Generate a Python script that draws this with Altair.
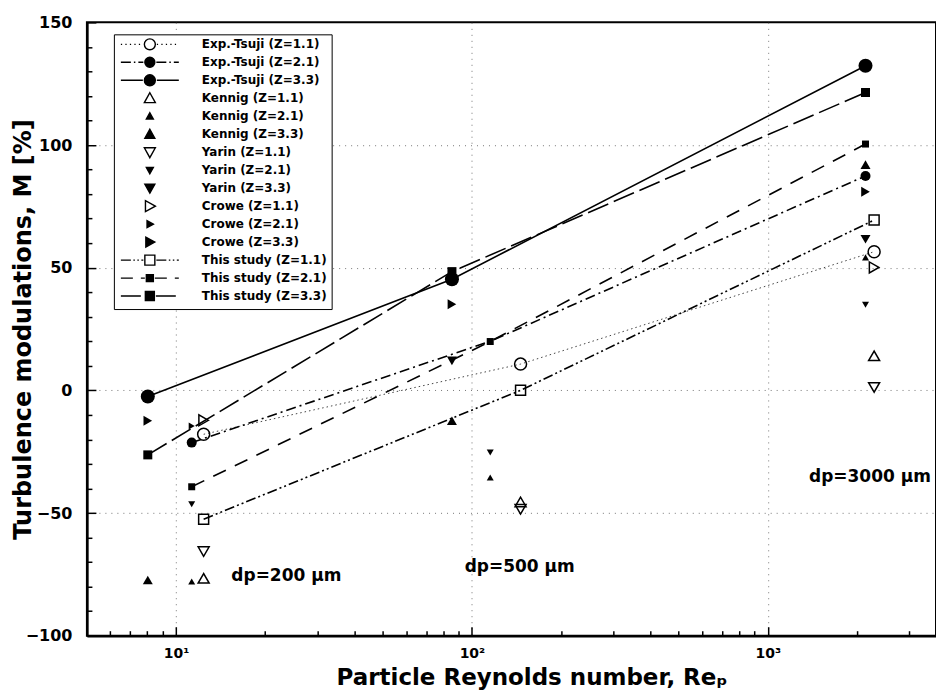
import altair as alt
import pandas as pd

# ---------------- data ----------------
SERIES = ["Exp.-Tsuji (Z=1.1)", "Exp.-Tsuji (Z=2.1)", "Exp.-Tsuji (Z=3.3)",
          "Kennig (Z=1.1)", "Kennig (Z=2.1)", "Kennig (Z=3.3)",
          "Yarin (Z=1.1)", "Yarin (Z=2.1)", "Yarin (Z=3.3)",
          "Crowe (Z=1.1)", "Crowe (Z=2.1)", "Crowe (Z=3.3)",
          "This study (Z=1.1)", "This study (Z=2.1)", "This study (Z=3.3)"]

tsuji11_x = [12.4, 146, 2286];   tsuji11_y = [-17.9, 10.7, 56.5]
tsuji21_x = [11.3, 115.3, 2138]; tsuji21_y = [-21.3, 20.0, 87.4]
tsuji33_x = [8.03, 85.6, 2138];  tsuji33_y = [-2.5, 45.3, 132.3]
kennig11_x = [12.4, 146, 2286];  kennig11_y = [-76.6, -45.5, 14.1]
kennig21_x = [11.3, 115.3, 2138]; kennig21_y = [-77.9, -35.5, 54.2]
kennig33_x = [8.03, 85.6, 2138]; kennig33_y = [-77.3, -12.4, 92.0]
yarin11_x = [12.4, 146, 2286];   yarin11_y = [-65.7, -48.5, 1.2]
yarin21_x = [11.3, 115.3, 2138]; yarin21_y = [-46.4, -25.3, 34.9]
yarin33_x = [85.6, 2138];        yarin33_y = [12.0, 61.6]
crowe11_x = [12.4, 2286];        crowe11_y = [-12.2, 50.1]
crowe21_x = [11.3];              crowe21_y = [-14.5]
crowe33_x = [8.03, 85.6, 2138];  crowe33_y = [-12.4, 35.1, 81.0]
study11_x = [12.4, 146, 2286];   study11_y = [-52.5, 0.0, 69.4]
study21_x = [11.3, 115.3, 2138]; study21_y = [-39.3, 19.9, 100.4]
study33_x = [8.03, 85.6, 2138];  study33_y = [-26.3, 48.4, 121.4]

SERIES_X = [tsuji11_x, tsuji21_x, tsuji33_x, kennig11_x, kennig21_x, kennig33_x,
            yarin11_x, yarin21_x, yarin33_x, crowe11_x, crowe21_x, crowe33_x,
            study11_x, study21_x, study33_x]
SERIES_Y = [tsuji11_y, tsuji21_y, tsuji33_y, kennig11_y, kennig21_y, kennig33_y,
            yarin11_y, yarin21_y, yarin33_y, crowe11_y, crowe21_y, crowe33_y,
            study11_y, study21_y, study33_y]
# which points carry a marker (the middle Tsuji Z=2.1 point is hidden in the reference)
MARKED = {"Exp.-Tsuji (Z=2.1)": [True, False, True]}

ANN_TEXT = ["dp=200 \u03bcm", "dp=500 \u03bcm", "dp=3000 \u03bcm"]
ANN_X = [23.6, 145.0, 2213.0]
ANN_Y = [-75.6, -72.0, -35.3]

X_MAJOR = [10, 100, 1000]
X_MINOR = [6, 7, 8, 9, 20, 30, 40, 50, 60, 70, 80, 90,
           200, 300, 400, 500, 600, 700, 800, 900, 2000, 3000]
Y_TICKS = list(range(-100, 151, 10))

# ---------------- styles ----------------
# series -> (shape, size, filled, line dash or None, line width, line colour)
STYLE = {
    "Exp.-Tsuji (Z=1.1)": ("circle", 144, False, [1.5, 3], 1.0, "#444"),
    "Exp.-Tsuji (Z=2.1)": ("circle", 100, True, [10, 4, 2, 4], 1.6, "black"),
    "Exp.-Tsuji (Z=3.3)": ("circle", 196, True, [], 1.6, "black"),
    "Kennig (Z=1.1)": ("triangle-up", 121, False, None, 0, None),
    "Kennig (Z=2.1)": ("triangle-up", 49, True, None, 0, None),
    "Kennig (Z=3.3)": ("triangle-up", 100, True, None, 0, None),
    "Yarin (Z=1.1)": ("triangle-down", 121, False, None, 0, None),
    "Yarin (Z=2.1)": ("triangle-down", 49, True, None, 0, None),
    "Yarin (Z=3.3)": ("triangle-down", 100, True, None, 0, None),
    "Crowe (Z=1.1)": ("triangle-right", 121, False, None, 0, None),
    "Crowe (Z=2.1)": ("triangle-right", 49, True, None, 0, None),
    "Crowe (Z=3.3)": ("triangle-right", 100, True, None, 0, None),
    "This study (Z=1.1)": ("square", 100, False, [10, 3, 2, 3, 2, 3], 1.6, "black"),
    "This study (Z=2.1)": ("square", 49, True, [14, 10], 1.6, "black"),
    "This study (Z=3.3)": ("square", 81, True, [22, 6], 1.6, "black"),
}

# legend symbols: custom paths (1 unit = 5 px) with line sample + marker
CX = 5.2
LINE_L, LINE_R = -0.6, 11.0
HALF_H = 1.1
LEG_PATTERN = {
    "Exp.-Tsuji (Z=1.1)": [(0.25, 0.65)],
    "Exp.-Tsuji (Z=2.1)": [(2.0, 0.6), (0.3, 0.6)],
    "Exp.-Tsuji (Z=3.3)": [(20, 0)],
    "This study (Z=1.1)": [(2.0, 0.5), (0.3, 0.5), (0.3, 0.5)],
    "This study (Z=2.1)": [(2.4, 1.6)],
    "This study (Z=3.3)": [(4.0, 1.0)],
}


def segs(pattern, a, b):
    out, x, i = [], a, 0
    while x < b - 1e-6:
        on, off = pattern[i % len(pattern)]
        e = min(x + on, b)
        out.append(f"M{x:.2f},0L{e:.2f},0")
        x = e + off
        i += 1
    return "".join(out)


def marker_path(shape, r):
    c = CX
    if shape == "circle":
        return (f"M{c - r:.2f},0A{r:.2f},{r:.2f},0,1,1,{c + r:.2f},0"
                f"A{r:.2f},{r:.2f},0,1,1,{c - r:.2f},0Z")
    if shape == "square":
        return (f"M{c - r:.2f},{-r:.2f}L{c + r:.2f},{-r:.2f}"
                f"L{c + r:.2f},{r:.2f}L{c - r:.2f},{r:.2f}Z")
    if shape == "triangle-up":
        return (f"M{c:.2f},{-r:.2f}L{c + r:.2f},{0.8 * r:.2f}"
                f"L{c - r:.2f},{0.8 * r:.2f}Z")
    if shape == "triangle-down":
        return (f"M{c:.2f},{r:.2f}L{c + r:.2f},{-0.8 * r:.2f}"
                f"L{c - r:.2f},{-0.8 * r:.2f}Z")
    return (f"M{c + r:.2f},0L{c - 0.8 * r:.2f},{-r:.2f}"
            f"L{c - 0.8 * r:.2f},{r:.2f}Z")


leg_paths, leg_fills = [], []
for s in SERIES:
    shape, size, filled, dash, lw, lc = STYLE[s]
    r = min((size ** 0.5) / 2 / 5, HALF_H)
    # zero-length anchors give every entry the same height
    p = f"M{CX:.2f},{-HALF_H:.2f}L{CX:.2f},{-HALF_H:.2f}M{CX:.2f},{HALF_H:.2f}L{CX:.2f},{HALF_H:.2f}"
    if s in LEG_PATTERN:
        p += segs(LEG_PATTERN[s], LINE_L, CX - r - 0.3)
        p += segs(LEG_PATTERN[s], CX + r + 0.3, LINE_R)
    p += marker_path(shape, r)
    leg_paths.append(p)
    leg_fills.append("black" if filled else "white")

# ---------------- chart ----------------
FONT = "DejaVu Sans"
x_scale = alt.Scale(type="log", domain=[5, 3700], nice=False)
y_scale = alt.Scale(domain=[-100, 150], nice=False)

major_x_test = "indexof([10, 100, 1000], datum.value) >= 0"
x_axis = alt.Axis(
    values=X_MAJOR + X_MINOR,
    labelExpr=("datum.value == 10 ? '10\u00b9' : datum.value == 100 ? '10\u00b2' : "
               "datum.value == 1000 ? '10\u00b3' : ''"),
    labelOverlap=False, labelFlush=False,
    grid=True, gridColor="#777", gridDash=[1, 5], gridWidth=1,
    gridOpacity={"condition": {"test": major_x_test, "value": 1}, "value": 0},
    tickSize={"condition": {"test": major_x_test, "value": -9}, "value": -5},
    tickColor="black", tickWidth=1.5,
    domainColor="black", domainWidth=2.5,
    labelFont=FONT, labelFontWeight="bold", labelFontSize=14, labelColor="black",
    labelPadding=20,
    title="Particle Reynolds number, Re\u209a",
    titleFont=FONT, titleFontWeight="bold", titleFontSize=23, titleColor="black",
    titlePadding=2, titleX=445,
)
major_y_test = "datum.value % 50 == 0"
grid_y_test = "datum.value % 50 == 0 && datum.value > -100 && datum.value < 150"
y_axis = alt.Axis(
    values=Y_TICKS,
    labelExpr="datum.value % 50 == 0 ? datum.label : ''",
    labelOverlap=False, labelFlush=False,
    grid=True, gridColor="#777", gridDash=[1, 5], gridWidth=1,
    gridOpacity={"condition": {"test": grid_y_test, "value": 1}, "value": 0},
    tickSize={"condition": {"test": major_y_test, "value": -9}, "value": -5},
    tickColor="black", tickWidth=1.5,
    domainColor="black", domainWidth=2.5,
    labelFont=FONT, labelFontWeight="bold", labelFontSize=16, labelColor="black",
    labelPadding=24,
    title="Turbulence modulations, M [%]",
    titleFont=FONT, titleFontWeight="bold", titleFontSize=24, titleColor="black",
    titleX=-51, titleBaseline="bottom",
)

X = alt.X("x:Q", scale=x_scale, axis=x_axis)
Y = alt.Y("y:Q", scale=y_scale, axis=y_axis)

layers = []
frames = {}
for s, xs, ys in zip(SERIES, SERIES_X, SERIES_Y):
    frames[s] = pd.DataFrame({"x": xs, "y": ys,
                              "m": MARKED.get(s, [True] * len(xs))})

# lines
for s in SERIES:
    shape, size, filled, dash, lw, lc = STYLE[s]
    if dash is None:
        continue
    kw = dict(color=lc, strokeWidth=lw)
    if dash:
        kw["strokeDash"] = dash
    layers.append(alt.Chart(frames[s]).mark_line(**kw).encode(x=X, y=Y))

# markers
for s in SERIES:
    shape, size, filled, dash, lw, lc = STYLE[s]
    layers.append(
        alt.Chart(frames[s]).transform_filter("datum.m").mark_point(
            shape=shape, size=size, filled=filled, color="black",
            strokeWidth=1.5, opacity=1
        ).encode(x=X, y=Y)
    )

# annotations
ann = pd.DataFrame({"x": ANN_X, "y": ANN_Y, "t": ANN_TEXT})
layers.append(
    alt.Chart(ann).mark_text(font=FONT, fontWeight="bold", fontSize=17,
                             color="black", align="center", baseline="middle")
    .encode(x=X, y=Y, text="t:N")
)

# legend (custom symbols)
legend = alt.Legend(title=None, orient="none", legendX=27, legendY=12,
                    symbolOpacity=1, symbolStrokeColor="black",
                    symbolStrokeWidth=1.4)
leg_df = pd.DataFrame({"series": SERIES})
layers.append(
    alt.Chart(leg_df).mark_point(opacity=0, color="black").encode(
        shape=alt.Shape("series:N", scale=alt.Scale(domain=SERIES, range=leg_paths),
                        legend=legend, sort=SERIES),
        fill=alt.Fill("series:N", scale=alt.Scale(domain=SERIES, range=leg_fills),
                      legend=legend, sort=SERIES),
        stroke=alt.Stroke("series:N", scale=alt.Scale(domain=SERIES, range=["black"] * len(SERIES)),
                          legend=legend, sort=SERIES),
    )
)

chart = alt.layer(*layers).properties(
    width=850, height=614,
    padding={"left": 4, "top": 6, "right": 0, "bottom": 0},
    background="white",
).configure_view(stroke="black", strokeWidth=2).configure_legend(
    strokeColor="black", strokeWidth=1, fillColor="white", padding=4,
    labelFont=FONT, labelFontWeight="bold", labelFontSize=12, labelColor="black",
    labelOffset=72, rowPadding=0, symbolSize=100, symbolStrokeWidth=1.4,
    symbolStrokeColor="black", labelLimit=300,
)

chart.save("out.html", embed_options={"renderer": "svg", "actions": False})
